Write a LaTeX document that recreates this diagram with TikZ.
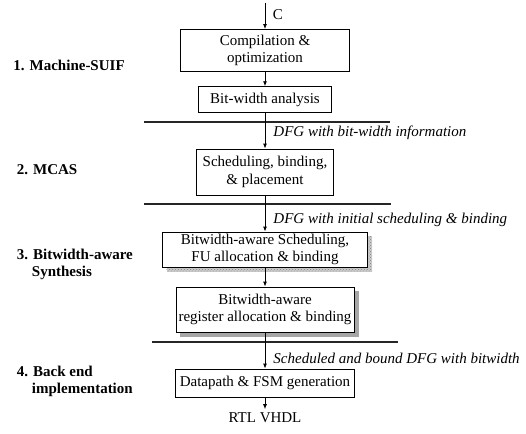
\documentclass[tikz,border=0pt]{standalone}
\usepackage{fontspec}
\setmainfont{Liberation Serif}
\usetikzlibrary{arrows.meta}
\usetikzlibrary{patterns}

\begin{document}
\begin{tikzpicture}[x=1pt,y=-1pt,line width=0.3mm,
  stage/.style={draw,fill=white,align=center,inner sep=0pt,font=\fontsize{15}{17.5}\selectfont},
  flow/.style={-{Latex[length=5pt,width=4pt]},line width=0.3mm},
  sep/.style={line width=0.5mm,black!85},
  tool/.style={anchor=west,align=left,inner sep=0pt,font=\bfseries\fontsize{15}{17}\selectfont},
  data/.style={anchor=west,inner sep=0pt,font=\itshape\fontsize{15}{18}\selectfont},
  plain/.style={font=\fontsize{15}{18}\selectfont}]
\useasboundingbox (0,0) rectangle (526,433);

% tool chain stages
\node[tool] (suif) at (13,65) {1. Machine-SUIF};
\node[tool] (mcas) at (16.5,170) {2. MCAS};
\node[tool] (bwsyn) at (16.5,264.5) {3. Bitwidth-aware\\\hspace{1em}Synthesis};
\node[tool] (backend) at (16.5,381.5) {4. Back end\\\hspace{1em}implementation};

% separators
\draw[sep] (144,122) -- (390,122);
\draw[sep] (144,204) -- (391,204);
\draw[sep] (152,342) -- (398,342);

% shadows (behind the boxes)
\fill[gray!40] (166.5,236) rectangle (372,271.5);
\fill[pattern=crosshatch dots,pattern color=gray] (166.5,236) rectangle (372,271.5);
\fill[gray!70] (180,291) rectangle (358.5,336.5);

% boxes
\coordinate (src) at (265,3);
\node[stage,minimum width=169,minimum height=42] (compile) at (265,50.5) {Compilation \&\\optimization};
\node[stage,minimum width=133,minimum height=26] (bitwidth) at (265,99.7) {Bit-width analysis};
\node[stage,minimum width=137,minimum height=46] (sched) at (265,172) {Scheduling, binding,\\\& placement};
\node[stage,minimum width=205,minimum height=35] (fualloc) at (265,249.5) {Bitwidth-aware Scheduling,\\FU allocation \& binding};
\node[stage,minimum width=178,minimum height=45] (regalloc) at (265,309.5) {Bitwidth-aware\\register allocation \& binding};
\node[stage,minimum width=179,minimum height=28] (datapath) at (265,383) {Datapath \& FSM generation};
\node[plain] (vhdl) at (265,418) {RTL VHDL};

% arrows
\draw[flow] (src) -- (compile) node[plain,pos=0.45,right=4pt] (clang) {C};
\draw[flow] (compile) -- (bitwidth);
\draw[flow] (bitwidth) -- (sched);
\draw[flow] (sched) -- (fualloc);
\draw[flow] (fualloc) -- (regalloc);
\draw[flow] (regalloc) -- (datapath);
\draw[flow] (datapath) -- (vhdl);

% data between stages
\node[data] (dfg1) at (273,133) {DFG with bit-width information};
\node[data] (dfg2) at (273,220) {DFG with initial scheduling \& binding};
\node[data] (dfg3) at (273,358) {Scheduled and bound DFG with bitwidth};
\end{tikzpicture}
\end{document}
